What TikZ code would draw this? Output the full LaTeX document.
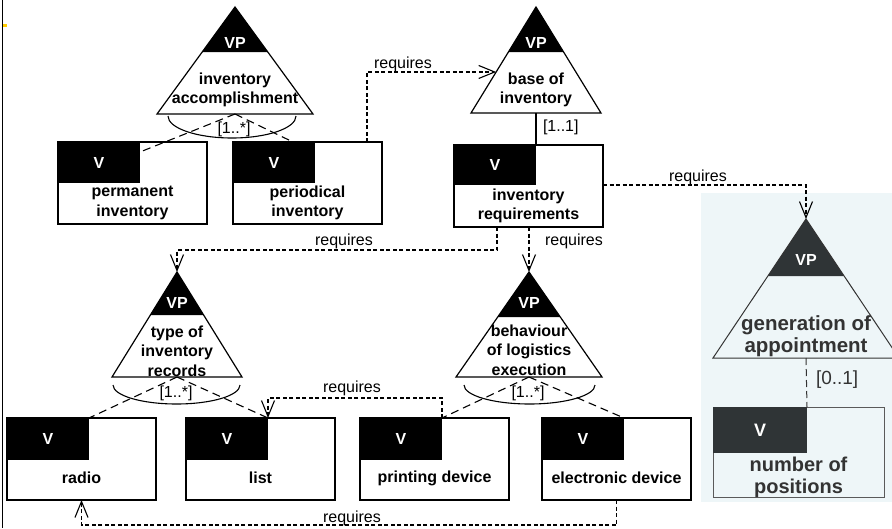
\documentclass[tikz,border=0pt]{standalone}
\usepackage{fontspec}
\setmainfont{Liberation Sans}
\usetikzlibrary{calc,arrows.meta}

\definecolor{paneldark}{RGB}{47,52,54}
\definecolor{panelbg}{RGB}{238,246,248}
\definecolor{paneltext}{RGB}{51,51,51}
\definecolor{panelline}{RGB}{90,90,90}
\definecolor{marker}{RGB}{255,204,0}

% variation point: triangle with a filled tip
% #1 name, #2 apex x, #3 apex y, #4 half base, #5 height,
% #6 depth of filled tip, #7 "VP" offset, #8 name offset, #9 name
\newcommand\vptri[9]{%
  \coordinate (#1-top) at (#2,#3);
  \coordinate (#1-bl) at ({#2-#4},{#3+#5});
  \coordinate (#1-br) at ({#2+#4},{#3+#5});
  \coordinate (#1-b) at ({#2},{#3+#5});
  \fill[vpfill] (#1-top) -- ($(#1-top)!#6/#5!(#1-bl)$) -- ($(#1-top)!#6/#5!(#1-br)$) -- cycle;
  \draw[tri line] (#1-top) -- (#1-bl) -- (#1-br) -- cycle;
  \node[vptag] (#1-vp) at ({#2},{#3+#7}) {VP};
  \node[vptext] (#1-name) at ({#2},{#3+#8}) {#9};
}

% variant: box with a filled corner
% #1 name, #2 x, #3 y, #4 width, #5 height, #6 corner width,
% #7 corner height, #8 name offset, #9 name
\newcommand\varbox[9]{%
  \node[vbox shape, minimum width=#4pt, minimum height=#5pt, anchor=north west] (#1) at (#2,#3) {};
  \fill[vfill] (#1.north west) rectangle ++(#6,#7);
  \coordinate (#1-v) at ($(#1.north west)+(#6,0)$);
  \node[vtag] (#1-tag) at ($(#1.north west)+({#6/2},{#7/2})$) {V};
  \node[vbtext] (#1-name) at ($(#1.north west)+({#4/2},#8)$) {#9};
}

\begin{document}
\begin{tikzpicture}[x=1pt, y=-1pt,
  every node/.style={inner sep=0pt, outer sep=0pt},
  vpfill/.style={fill=black},
  vfill/.style={fill=black},
  tri line/.style={draw=black, line width=1.2pt, line join=miter},
  vbox shape/.style={draw=black, line width=1.2pt, fill=white},
  vptag/.style={font=\fontsize{16}{19}\selectfont\bfseries, text=white},
  vtag/.style={font=\fontsize{16}{19}\selectfont\bfseries, text=white},
  vptext/.style={font=\fontsize{16}{19.5}\selectfont\bfseries, align=center},
  vbtext/.style={font=\fontsize{16}{19.5}\selectfont\bfseries, align=center},
  lbl/.style={font=\fontsize{16}{19}\selectfont},
  card/.style={draw=black, line width=1.1pt},
  alt/.style={draw=black, line width=1.1pt, dash pattern=on 8pt off 5pt},
  req/.style={draw=black, line width=1.1pt, dash pattern=on 4pt off 2.5pt,
    -{Straight Barb[length=16pt,width=13pt]}},
  solidlink/.style={draw=black, line width=1.2pt}
]
\useasboundingbox (0,0) rectangle (892,528);

% page edge and marker
\draw[line width=1.2pt] (2.5,0) -- (2.5,528);
\fill[marker] (3,24) rectangle (7,26.5);

% highlighted panel
\fill[panelbg] (701,193) rectangle (892,502);

% variation points
\vptri{t1}{235}{7}{78}{107}{45}{36}{83}{inventory\\accomplishment}
\vptri{t2}{536}{7}{65}{106}{45}{36}{83}{base of\\inventory}
\vptri{t3}{177}{272}{65}{105}{43}{31}{79}{type of\\inventory\\records}
\vptri{t4}{529}{272}{73}{105}{45}{31}{78}{behaviour\\of logistics\\execution}

% variants
\varbox{b1}{58}{142}{149}{82}{82}{41}{61}{permanent\\inventory}
\varbox{b2}{233}{142}{149}{82}{82}{41}{61}{periodical\\inventory}
\varbox{b3}{454}{145}{149}{82}{82}{40}{61}{inventory\\requirements}
\varbox{b4}{7}{418}{149}{82}{82}{42}{60}{radio}
\varbox{b5}{186}{418}{149}{82}{82}{42}{60}{list}
\varbox{b6}{360}{418}{149}{82}{82}{42}{60}{printing device}
\varbox{b7}{542}{418}{149}{82}{82}{42}{60}{electronic device}

% panel elements
\begin{scope}[
  vpfill/.style={fill=paneldark},
  vfill/.style={fill=paneldark},
  tri line/.style={draw=paneltext, line width=1pt},
  vbox shape/.style={draw=panelline, line width=1pt},
  vptag/.style={font=\fontsize{16}{19}\selectfont\bfseries, text=white},
  vtag/.style={font=\fontsize{18}{21}\selectfont\bfseries, text=white},
  vptext/.style={font=\fontsize{20.5}{22}\selectfont\bfseries, align=center, text=paneltext},
  vbtext/.style={font=\fontsize{20}{22}\selectfont\bfseries, align=center, text=paneltext}]
\vptri{t5}{806}{219}{93}{139}{57}{41}{117}{generation of\\appointment}
\varbox{b8}{713}{407}{171}{90}{94}{46}{70}{number of\\positions}
\end{scope}

% alternative groups (lower half ellipses under the triangles)
\draw[card] (168,116) arc[start angle=180, end angle=360, x radius=64pt, y radius=22pt];
\draw[card] (113,385) arc[start angle=180, end angle=360, x radius=63.5pt, y radius=19pt];
\draw[card] (464,385) arc[start angle=180, end angle=360, x radius=65.5pt, y radius=19pt];
\node[lbl] (m1) at (234,129) {[1..*]};
\node[lbl] (m3) at (176,393) {[1..*]};
\node[lbl] (m4) at (528,393) {[1..*]};

\draw[alt] (t1-b) -- ($(b1-v)+(0,10)$);
\draw[alt] (t1-b) -- ($(b2.north west)+(60,0)$);
\draw[alt] (t3-b) -- (b4-v);
\draw[alt] (t3-b) -- (b5-v);
\draw[alt] (t4-b) -- (b6-v);
\draw[alt] (t4-b) -- (b7-v);

% mandatory and optional links
\draw[solidlink] (t2-b) -- (b3-v);
\node[lbl, anchor=west] (m2) at (543,127) {[1..1]};
\draw[alt, draw=paneltext, line width=1pt, dash pattern=on 7pt off 4pt] (t5-b) -- (b8-v);
\node[lbl, anchor=west, font=\fontsize{19}{22}\selectfont, text=paneltext] (m5) at (816,380) {[0..1]};

% requires dependencies
\coordinate (r1s) at ($(b2.north west)+(134,0)$);
\coordinate (r1e) at ($(t2-top)!0.613!(t2-bl)$);
\draw[req] (r1s) |- (r1e);
\node[lbl, anchor=base] (q1) at (403,68) {requires};

\coordinate (r2s) at ($(b3.north east)+(0,40)$);
\draw[req] (r2s) -| (t5-top);
\node[lbl, anchor=base] (q2) at (698,181) {requires};

\coordinate (r3s) at ($(b3.south west)+(43,0)$);
\draw[req] (r3s) -- ++(0,23) -| (t3-top);
\node[lbl, anchor=base] (q3) at (344,245) {requires};

\coordinate (r4s) at ($(b3.south west)+(75,0)$);
\draw[req] (r4s) -- (t4-top);
\node[lbl, anchor=base] (q4) at (574,245) {requires};

\draw[req] (b6-v) -- ++(0,-20) -| (b5-v);
\node[lbl, anchor=base] (q5) at (352,392) {requires};

\draw[req] (b7.south) -- ++(0,25) -| (b4.south);
\node[lbl, anchor=base] (q6) at (352,522) {requires};

\end{tikzpicture}
\end{document}
